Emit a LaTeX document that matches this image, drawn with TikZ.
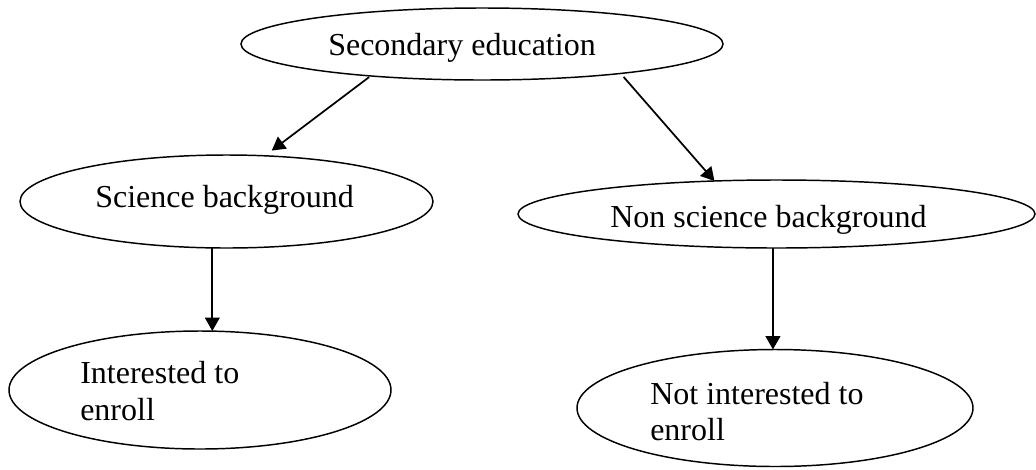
\documentclass[tikz,border=0pt]{standalone}
\usepackage{fontspec}
\setmainfont{Liberation Serif}
\usetikzlibrary{arrows.meta,shapes.geometric}
\begin{document}
\begin{tikzpicture}[x=0.75pt,y=-0.75pt,
  oval/.style={draw,ellipse,line width=1.1pt,inner sep=0pt,outer sep=0pt},
  lbl/.style={anchor=base west,inner sep=0pt,font=\fontsize{24}{28}\selectfont},
  link/.style={line width=1.3pt,-{Triangle[length=10pt,width=11pt]}}]
\useasboundingbox (0,0) rectangle (1036,469);
% ellipses
\node[oval,minimum width=361.5pt,minimum height=54pt] (top) at (482,44) {};
\node[oval,minimum width=309.75pt,minimum height=69.75pt] (sci) at (226.5,201.5) {};
\node[oval,minimum width=387.75pt,minimum height=51pt] (non) at (776.5,214) {};
\node[oval,minimum width=286.5pt,minimum height=88.5pt] (int) at (200,390) {};
\node[oval,minimum width=297pt,minimum height=87.75pt] (notint) at (775,408) {};
% texts
\node[lbl] (ttop) at (328,55) {Secondary education};
\node[lbl] (tsci) at (95,207) {Science background};
\node[lbl] (tnon) at (610,227) {Non science background};
\node[lbl] (tint1) at (80,383) {Interested to};
\node[lbl] (tint2) at (80,420) {enroll};
\node[lbl] (tnot1) at (650,404) {Not interested to};
\node[lbl] (tnot2) at (650,440) {enroll};
% connectors
\draw[link,shorten <=1.5pt,shorten >=6.5pt] (top.196) -- (sci.50);
\draw[link,shorten <=3.5pt] (top.348) -- (non.152);
\draw[link] (sci.253) -- (sci.253 |- int.north);
\draw[link] (non.264) -- (non.264 |- notint.north);
\end{tikzpicture}
\end{document}
